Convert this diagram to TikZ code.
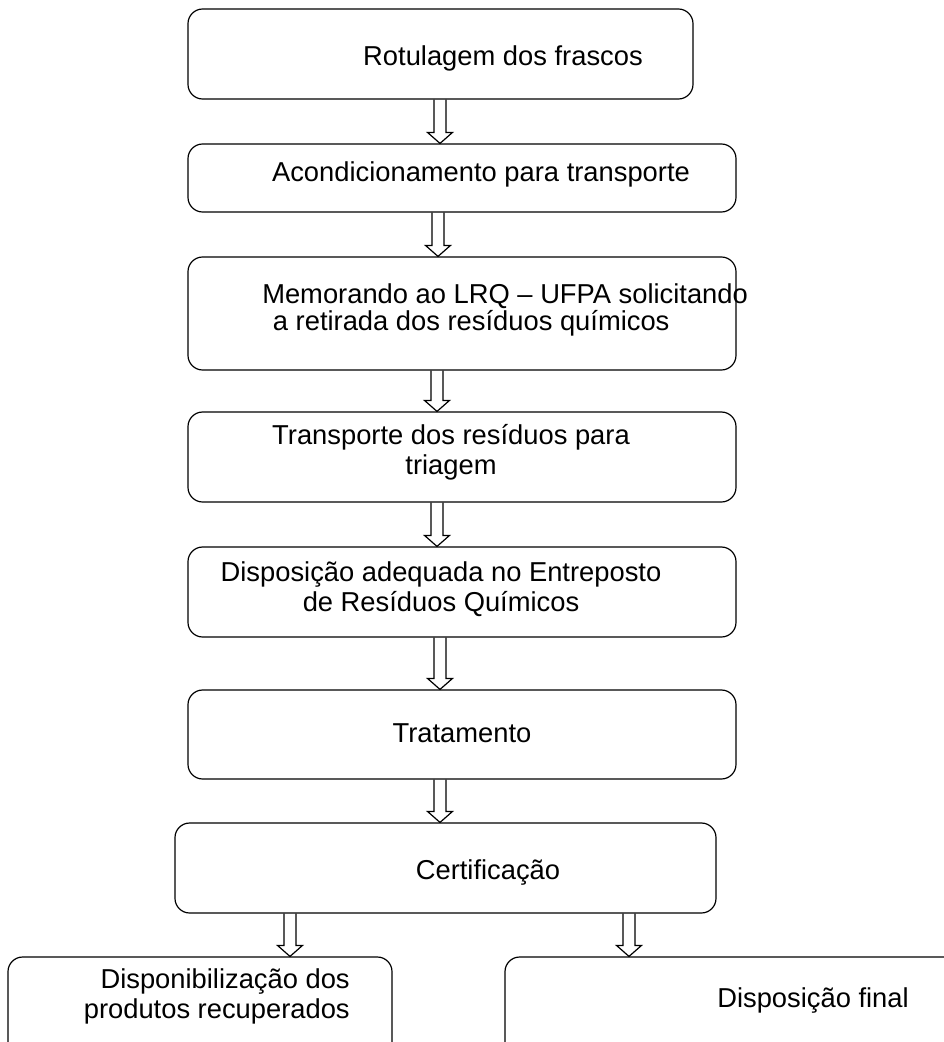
\documentclass[tikz,border=0pt]{standalone}
\usepackage{fontspec}
\setmainfont{Liberation Sans}
\usetikzlibrary{calc}
\tikzset{
  stepbox/.style={draw, line width=0.9pt, rounded corners=11pt, inner sep=0pt},
  wh/.style 2 args={minimum width=#1*0.75pt, minimum height=#2*0.75pt},
  steptext/.style={font=\fontsize{20.5}{22.5}\selectfont, inner sep=0pt, align=center},
}
% hollow block arrow from the bottom of #1 to the top of #2, at x = #3
\newcommand{\hollowarrow}[3]{%
  \draw[line width=0.9pt, line join=miter] let \p1=(#1.south), \p2=(#2.north), \p3=(#3,0) in
    (\x3-4.5pt,\y1) -- (\x3-4.5pt,\y2+8.25pt) -- (\x3-9.4pt,\y2+8.25pt) -- (\x3,\y2)
    -- (\x3+9.4pt,\y2+8.25pt) -- (\x3+4.5pt,\y2+8.25pt) -- (\x3+4.5pt,\y1);}

\begin{document}
\begin{tikzpicture}[x=0.75pt, y=-0.75pt]
\useasboundingbox (0,0) rectangle (944,1042);
\clip (0,0) rectangle (944,1042);

% Boxes
\node[stepbox, wh={505}{90}] (rotulagem) at (440.5,54) {};
\node[stepbox, wh={548}{68}] (acond) at (462,178) {};
\node[stepbox, wh={548}{113}] (memorando) at (462,313.5) {};
\node[stepbox, wh={548}{90}] (transporte) at (462,457) {};
\node[stepbox, wh={548}{90}] (disposicao) at (462,592) {};
\node[stepbox, wh={548}{89}] (tratamento) at (462,734.5) {};
\node[stepbox, wh={541}{90}] (certif) at (445.5,868) {};
\node[stepbox, wh={384}{113}] (produtos) at (200,1013.5) {};
\node[stepbox, wh={475}{113}] (final) at (742.5,1013.5) {};

% Texts
\node[steptext] (rotulagemt) at (503,58) {Rotulagem dos frascos};
\node[steptext] (acondt) at (481,174) {Acondicionamento para transporte};
\node[steptext, align=left, anchor=west, font=\fontsize{20.5}{20}\selectfont] (memorandot) at (262,310)
  {Memorando ao LRQ -- UFPA solicitando\\\hspace*{8pt}a retirada dos resíduos químicos};
\node[steptext] (transportet) at (451,452) {Transporte dos resíduos para\\triagem};
\node[steptext] (disposicaot) at (441,589) {Disposição adequada no Entreposto\\de Resíduos Químicos};
\node[steptext] (tratamentot) at (462,733) {Tratamento};
\node[steptext] (certift) at (488,872) {Certificação};
\node[steptext, align=right, anchor=east] (produtost) at (350,996)
  {Disponibilização dos\\produtos recuperados};
\node[steptext] (finalt) at (813,1000) {Disposição final};

% Arrows
\hollowarrow{rotulagem}{acond}{440}
\hollowarrow{acond}{memorando}{438}
\hollowarrow{memorando}{transporte}{437}
\hollowarrow{transporte}{disposicao}{437}
\hollowarrow{disposicao}{tratamento}{440}
\hollowarrow{tratamento}{certif}{440}
\hollowarrow{certif}{produtos}{290}
\hollowarrow{certif}{final}{629}
\end{tikzpicture}
\end{document}
